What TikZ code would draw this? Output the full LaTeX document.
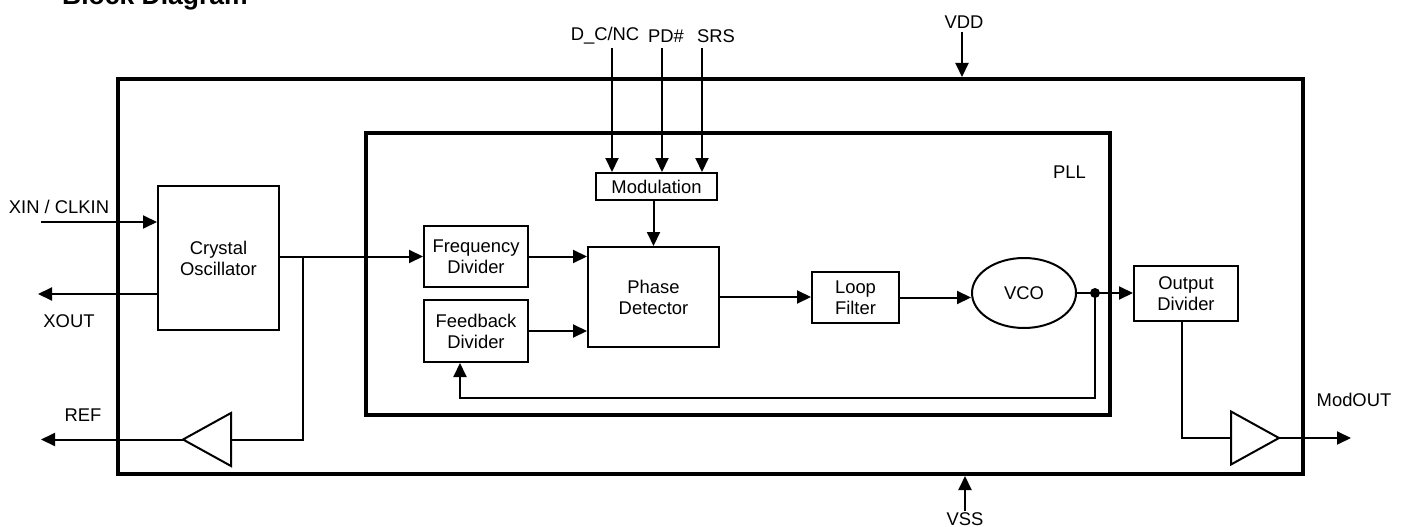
\documentclass[tikz,border=0pt]{standalone}
\usepackage{fontspec}
\setmainfont{Liberation Sans}
\usetikzlibrary{arrows.meta,shapes.geometric}
\newcommand{\lblfont}{\fontsize{18.4}{21}\selectfont}
\begin{document}
\begin{tikzpicture}[x=1pt,y=-1pt,
  blk/.style={draw, line width=2pt, font=\lblfont, align=center, inner sep=0pt},
  frame/.style={draw, line width=4pt, inner sep=0pt},
  wire/.style={line width=2pt},
  arr/.style={line width=2pt, -{Triangle[length=14pt,width=13pt]}},
  lbl/.style={font=\lblfont, inner sep=0pt},
  buf/.style={draw, line width=2pt, isosceles triangle, isosceles triangle stretches, inner sep=0pt, outer sep=0pt, minimum height=48pt, minimum width=53pt}
]
\useasboundingbox (0,0) rectangle (1401,527);
% title (clipped at top)
\node[anchor=base west, inner sep=0pt, font=\fontsize{26.5}{30}\selectfont\bfseries] (title) at (62,5) {Block Diagram};
% frames
\node[frame, minimum width=1185pt, minimum height=395pt] (chip) at (710.5,276.5) {};
\node[frame, minimum width=744pt, minimum height=282pt] (pll) at (738,274) {};
\node[lbl] (plllbl) at (1069.5,172.5) {PLL};
% blocks
\node[blk, minimum width=121pt, minimum height=144pt] (cryst) at (218.5,258) {Crystal\\Oscillator};
\node[blk, minimum width=104pt, minimum height=61pt] (fdiv) at (476,256.5) {Frequency\\Divider};
\node[blk, minimum width=104pt, minimum height=62pt] (fbdiv) at (476,331) {Feedback\\Divider};
\node[blk, minimum width=121pt, minimum height=27pt] (mod) at (656.5,186.5) {Modulation};
\node[blk, minimum width=131pt, minimum height=100pt] (pd) at (653.5,297) {Phase\\Detector};
\node[blk, minimum width=87pt, minimum height=51pt] (lf) at (855.5,297.5) {Loop\\Filter};
\node[blk, ellipse, minimum width=104pt, minimum height=70pt] (vco) at (1024,293) {VCO};
\node[blk, minimum width=104pt, minimum height=55pt] (odiv) at (1186,293.5) {Output\\Divider};
\node[buf, shape border rotate=180, anchor=apex] (refbuf) at (183,439.5) {};
\node[buf, anchor=apex] (obuf) at (1279,438) {};
% external labels
\node[lbl] (dcnc) at (605,36) {D\_C/NC};
\node[lbl] (pdn) at (666,36) {PD\#};
\node[lbl] (srs) at (716,36) {SRS};
\node[lbl] (vdd) at (964,22) {VDD};
\node[lbl] (vss) at (965,519) {VSS};
\node[lbl] (xin) at (59,207) {XIN / CLKIN};
\node[lbl] (xout) at (69,321) {XOUT};
\node[lbl] (ref) at (83,415) {REF};
\node[lbl] (modout) at (1354,400) {ModOUT};
% coordinates for free ends
\coordinate (xinend) at (41,222);
\coordinate (xoutend) at (38,294);
\coordinate (refend) at (41,439.5);
\coordinate (modoutend) at (1351,438);
\coordinate (br) at (303,256.5);
\coordinate (dot) at (1095,293);
\coordinate (fbk) at (460,398);
\coordinate (obr) at (1182,321);
% power
\draw[arr] (962,32) -- (chip.north -| 962,0);
\draw[arr] (965,511) -- (chip.south -| 965,0);
% control inputs
\draw[arr] (612,48) -- (mod.north -| 612,0);
\draw[arr] (662,48) -- (mod.north -| 662,0);
\draw[arr] (702,48) -- (mod.north -| 702,0);
% crystal
\draw[arr] (xinend) -- (xinend -| cryst.west);
\draw[arr] (cryst.west |- xoutend) -- (xoutend);
\draw[arr] (cryst.east |- br) -- (fdiv.west);
\draw[wire] (br) |- (refbuf.lower side);
\draw[arr] (refbuf.apex) -- (refend);
% PLL
\draw[arr] (fdiv.east) -- (fdiv.east -| pd.west);
\draw[arr] (fbdiv.east) -- (fbdiv.east -| pd.west);
\draw[arr] (pd.north |- mod.south) -- (pd.north);
\draw[arr] (pd.east) -- (pd.east -| lf.west);
\draw[arr] (lf.east) -- (lf.east -| vco.west);
\draw[arr] (vco.east) -- (vco.east -| odiv.west);
\fill (dot) circle (5pt);
\draw[arr] (dot) |- (fbk) -- (fbk |- fbdiv.south);
% output
\draw[wire] (obr) |- (obuf.lower side);
\draw[arr] (obuf.apex) -- (modoutend);
\end{tikzpicture}
\end{document}
